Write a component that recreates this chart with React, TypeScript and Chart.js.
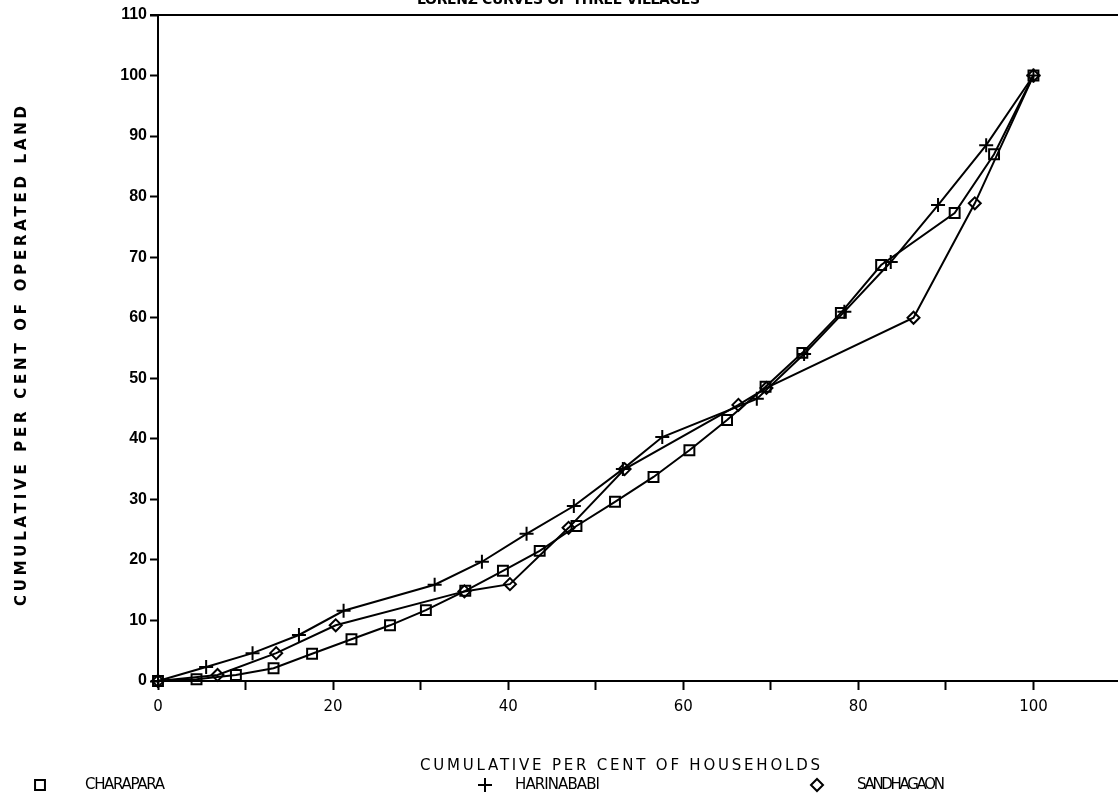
import React, { useEffect, useRef } from 'react';
import { Chart, registerables } from 'chart.js';

Chart.register(...registerables);

const chartTitle = 'LORENZ CURVES OF THREE VILLAGES';
const xAxisTitle = 'CUMULATIVE PER CENT OF HOUSEHOLDS';
const yAxisTitle = 'CUMULATIVE PER CENT OF OPERATED LAND';

const seriesNames = ['CHARAPARA', 'HARINABABI', 'SANDHAGAON'];

const charaparaX = [0, 4.4, 8.9, 13.2, 17.6, 22.1, 26.5, 30.6, 35.1, 39.4, 43.6, 47.8, 52.2, 56.6, 60.7, 65.0, 69.4, 73.6, 78.0, 82.6, 91.0, 95.5, 100];
const charaparaY = [0, 0.3, 1.0, 2.1, 4.5, 6.9, 9.2, 11.7, 14.9, 18.2, 21.5, 25.6, 29.6, 33.7, 38.1, 43.1, 48.6, 54.2, 60.8, 68.7, 77.3, 87.0, 100];

const harinababiX = [0, 5.5, 10.8, 16.1, 21.2, 31.6, 37.0, 42.1, 47.5, 53.1, 57.6, 68.4, 73.8, 78.4, 83.7, 89.1, 94.6, 100];
const harinababiY = [0, 2.3, 4.6, 7.6, 11.6, 15.9, 19.7, 24.3, 28.9, 35.0, 40.3, 46.6, 54.0, 61.0, 69.2, 78.6, 88.5, 100];

const sandhagaonX = [0, 6.8, 13.5, 20.3, 35.0, 40.2, 46.9, 53.3, 66.3, 69.5, 86.3, 93.3, 100];
const sandhagaonY = [0, 1.0, 4.6, 9.2, 14.8, 16.0, 25.3, 35.0, 45.6, 48.4, 60.0, 78.9, 100];

const xTickValues = [0, 10, 20, 30, 40, 50, 60, 70, 80, 90, 100];
const xLabelValues = [0, 20, 40, 60, 80, 100];

const pointStyles = ['rect', 'cross', 'rectRot'];
const pointRadii = [7, 7, 6];

const toPoints = (xs: number[], ys: number[]) => xs.map((x, i) => ({ x, y: ys[i] }));

function fitText(ctx: CanvasRenderingContext2D, text: string, target: number) {
  (ctx as any).letterSpacing = '0px';
  const w = ctx.measureText(text).width;
  const sp = (target - w) / Math.max(text.length - 1, 1);
  (ctx as any).letterSpacing = sp + 'px';
}

const decorPlugin = {
  id: 'decor',
  afterDraw(chart: any) {
    const { ctx, chartArea } = chart;
    ctx.save();
    // top frame line
    ctx.strokeStyle = '#000';
    ctx.lineWidth = 2;
    ctx.beginPath();
    ctx.moveTo(chartArea.left - 8, chartArea.top);
    ctx.lineTo(chartArea.right, chartArea.top);
    ctx.stroke();

    ctx.fillStyle = '#000';
    // chart title (cut off by top edge)
    ctx.font = 'bold 14px "DejaVu Sans"';
    ctx.textAlign = 'left';
    ctx.textBaseline = 'alphabetic';
    fitText(ctx, chartTitle, 283);
    ctx.fillText(chartTitle, 417, 4);

    // x axis title
    ctx.font = '15px "DejaVu Sans"';
    fitText(ctx, xAxisTitle, 400);
    ctx.textBaseline = 'alphabetic';
    ctx.fillText(xAxisTitle, 420, 770);

    // y axis title
    ctx.save();
    ctx.translate(26, 356);
    ctx.rotate(-Math.PI / 2);
    ctx.font = 'bold 15px "DejaVu Sans"';
    fitText(ctx, yAxisTitle, 500);
    ctx.textAlign = 'left';
    ctx.fillText(yAxisTitle, -250, 0);
    ctx.restore();

    // legend
    const legendMarkX = [40, 485, 817];
    const legendTextX = [85, 515, 857];
    const legendTextW = [80, 85, 88];
    ctx.font = '15px "DejaVu Sans"';
    const ly = 785;
    chart.data.datasets.forEach((ds: any, i: number) => {
      ctx.lineWidth = 2;
      ctx.strokeStyle = '#000';
      (Chart as any).helpers?.drawPoint;
      drawMarker(ctx, pointStyles[i], legendMarkX[i], ly, pointRadii[i]);
      fitText(ctx, ds.label, legendTextW[i]);
      ctx.textBaseline = 'middle';
      ctx.fillText(ds.label, legendTextX[i], ly);
    });
    ctx.restore();
  },
};

function drawMarker(ctx: CanvasRenderingContext2D, style: string, x: number, y: number, r: number) {
  ctx.beginPath();
  if (style === 'rect') {
    const s = Math.SQRT1_2 * r;
    ctx.rect(x - s, y - s, 2 * s, 2 * s);
  } else if (style === 'cross') {
    ctx.moveTo(x, y - r);
    ctx.lineTo(x, y + r);
    ctx.moveTo(x - r, y);
    ctx.lineTo(x + r, y);
  } else {
    ctx.moveTo(x - r, y);
    ctx.lineTo(x, y - r);
    ctx.lineTo(x + r, y);
    ctx.lineTo(x, y + r);
    ctx.closePath();
  }
  ctx.stroke();
}

export default function App() {
  const canvasRef = useRef<HTMLCanvasElement | null>(null);

  useEffect(() => {
    const canvas = canvasRef.current;
    if (!canvas) return;
    const seriesX = [charaparaX, harinababiX, sandhagaonX];
    const seriesY = [charaparaY, harinababiY, sandhagaonY];
    const chart = new Chart(canvas, {
      type: 'line',
      data: {
        datasets: seriesNames.map((name, i) => ({
          label: name,
          data: toPoints(seriesX[i], seriesY[i]),
          borderColor: '#000',
          backgroundColor: 'rgba(0,0,0,0)',
          borderWidth: 2,
          pointStyle: pointStyles[i] as any,
          pointRadius: pointRadii[i],
          pointBorderWidth: 2,
          pointBorderColor: '#000',
          pointBackgroundColor: 'rgba(0,0,0,0)',
          tension: 0,
          fill: false,
          clip: false as any,
        })),
      },
      options: {
        responsive: false,
        animation: false,
        events: [],
        layout: { padding: { left: 98, top: 15, right: 1, bottom: 79 } },
        plugins: {
          legend: { display: false },
          tooltip: { enabled: false },
          title: { display: false },
        },
        scales: {
          x: {
            type: 'linear',
            min: 0,
            max: 110,
            afterFit: (s: any) => { s.height = 40; },
            afterBuildTicks: (s: any) => { s.ticks = xTickValues.map((v) => ({ value: v })); },
            grid: { display: true, drawOnChartArea: false, drawTicks: true, tickLength: 9, tickColor: '#000', tickWidth: 2, color: '#000' },
            border: { display: true, color: '#000', width: 2 },
            ticks: {
              autoSkip: false,
              maxRotation: 0,
              padding: 8,
              color: '#000',
              font: { family: '"DejaVu Sans"', size: 15 },
              callback: (v: any) => (xLabelValues.includes(Number(v)) ? String(v) : ''),
            },
          },
          y: {
            type: 'linear',
            min: 0,
            max: 110,
            afterFit: (s: any) => { s.width = 60; },
            grid: { display: true, drawOnChartArea: false, drawTicks: true, tickLength: 8, tickColor: '#000', tickWidth: 2, color: '#000' },
            border: { display: true, color: '#000', width: 2 },
            ticks: {
              stepSize: 10,
              padding: 3,
              color: '#000',
              font: { family: '"Liberation Sans"', size: 16, weight: 'bold' },
            },
          },
        },
      },
      plugins: [decorPlugin],
    });
    return () => chart.destroy();
  }, []);

  return (
    <div style={{ position: 'fixed', left: 0, top: 0, width: 1118, height: 800, overflow: 'hidden', background: '#fff' }}>
      <canvas ref={canvasRef} width={1130} height={800} style={{ display: 'block' }} />
    </div>
  );
}
